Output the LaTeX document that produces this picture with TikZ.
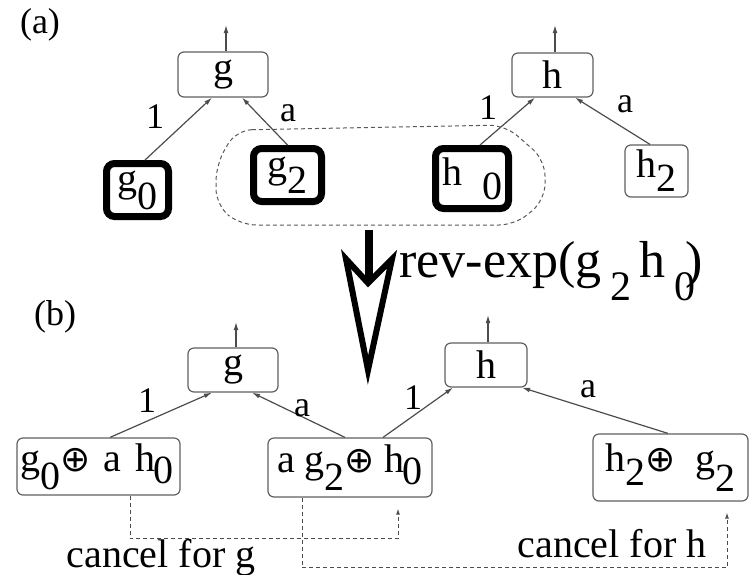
\documentclass[tikz,border=0pt]{standalone}
\usepackage{fontspec}
\setmainfont{Liberation Serif}
\newfontfamily\symfont{DejaVu Sans}
\usetikzlibrary{arrows.meta}
\newcommand\lowr[2][0.4em]{\raisebox{-#1}{#2}}
\newcommand\opl{{\symfont\fontsize{18}{18}\selectfont ⊕}}
\begin{document}
\begin{tikzpicture}[x=0.5pt,y=-0.5pt,
  nodebox/.style={draw=gray!75!black, line width=0.6pt, rounded corners=3pt, inner sep=0pt, font=\fontsize{20}{24}\selectfont},
  heavybox/.style={nodebox, draw=black, line width=3.5pt, rounded corners=4pt},
  link/.style={gray!60!black, line width=0.6pt, -{Latex[length=4pt,width=2.4pt]}},
  lbl/.style={inner sep=0pt, font=\fontsize{18}{20}\selectfont},
  cancelline/.style={gray!60!black, line width=0.5pt, dash pattern=on 2pt off 1.5pt, -{Latex[length=3pt,width=2pt]}}]
\useasboundingbox (0,0) rectangle (749,574);
% (a) before
\node[lbl] (parta) at (40,25) {(a)};
\node[nodebox, minimum width=45pt, minimum height=22.5pt] (ag) at (223,74.5) {g};
\coordinate (agout) at (226,25);
\draw[link] (agout |- ag.north) -- (agout);
\node[heavybox, minimum width=31pt, minimum height=26.5pt] (ag0) at (137.5,190) {g\lowr[0.45em]{0}};
\node[heavybox, minimum width=34pt, minimum height=26.5pt] (ag2) at (287.5,175) {g\lowr{2}};
\draw[link] ([xshift=3.75pt]ag0.north) -- ([xshift=-5.5pt]ag.south);
\draw[link] (ag2.north) -- ([xshift=9.5pt]ag.south);
\node[lbl] (ag0lbl) at (155,117) {1};
\node[lbl] (ag2lbl) at (288,113) {a};
\node[nodebox, minimum width=40.5pt, minimum height=22pt] (ah) at (552.5,75) {h};
\coordinate (ahout) at (555,25);
\draw[link] (ahout |- ah.north) -- (ahout);
\node[heavybox, minimum width=36.5pt, minimum height=30pt] (ah0) at (472,178.5) {h\ \ \lowr[0.35em]{0}};
\node[nodebox, minimum width=31.5pt, minimum height=26pt] (ah2) at (656.5,171) {h\lowr[0.35em]{2}};
\draw[link] ([xshift=4pt]ah0.north) -- ([xshift=-8.75pt]ah.south);
\draw[link] ([xshift=-3.25pt]ah2.north) -- ([xshift=11.25pt]ah.south);
\node[lbl] (ah0lbl) at (488,108) {1};
\node[lbl] (ah2lbl) at (625,104) {a};
\draw[gray!70!black, line width=0.5pt, dash pattern=on 2pt off 1.5pt, rounded corners=8pt]
  (236,130) -- (505,125) -- (545,160) -- (545,200) -- (515,225) -- (240,225) -- (216,205) -- (216,165) -- cycle;
% rev-exp step
\draw[line width=4pt] (369,230) -- (369,284);
\draw[line width=3pt, fill=white, line join=miter] (346,259) -- (368,283) -- (392,259) -- (368,370) -- cycle;
\node[anchor=base west, inner sep=0pt, font=\fontsize{26}{30}\selectfont] (revexp) at (399,277)
  {rev-exp(g\,\lowr[0.45em]{\fontsize{21}{21}\selectfont 2}\,h\,\lowr[0.45em]{\fontsize{21}{21}\selectfont 0}\kern-0.2em)};
% (b) after
\node[lbl] (partb) at (55,317) {(b)};
\node[nodebox, minimum width=45pt, minimum height=22pt] (bg) at (233,370) {g};
\coordinate (bgout) at (236,322);
\draw[link] (bgout |- bg.north) -- (bgout);
\node[nodebox, minimum width=81.5pt, minimum height=28.5pt, text width=78pt, align=left] (bg0) at (98.5,466.5)
  {g\lowr[0.45em]{0}\opl\ a h\kern-0.05em\lowr[0.3em]{0}};
\node[nodebox, minimum width=82pt, minimum height=29.5pt] (bg2) at (350,467.5)
  {a g\lowr[0.45em]{2}\opl\ h\kern-0.05em\lowr[0.3em]{0}};
\draw[link] ([xshift=5.75pt]bg0.north) -- ([xshift=-10.5pt]bg.south);
\draw[link] ([xshift=-2.5pt]bg2.north) -- ([xshift=9.5pt]bg.south);
\node[lbl] (bg0lbl) at (147,401) {1};
\node[lbl] (bg2lbl) at (302,408) {a};
\node[nodebox, minimum width=41pt, minimum height=22pt] (bh) at (486,365) {h};
\coordinate (bhout) at (488,315);
\draw[link] (bhout |- bh.north) -- (bhout);
\node[nodebox, minimum width=77.5pt, minimum height=33.5pt] (bh2) at (670.5,467.5)
  {h\lowr[0.35em]{2}\opl\ \ g\lowr[0.5em]{2}};
\draw[link] ([xshift=16.5pt]bg2.north) -- ([xshift=-16.5pt]bh.south);
\draw[link] ([xshift=-1.25pt]bh2.north) -- ([xshift=18pt]bh.south);
\node[lbl] (bg2hlbl) at (413,398) {1};
\node[lbl] (bh2lbl) at (588,389) {a};
% cancellations
\draw[cancelline] ([xshift=15.75pt]bg0.south) -- ++(0,43) -| ([xshift=24pt,yshift=-5.5pt]bg2.south);
\draw[cancelline] ([xshift=-24pt]bg2.south) -- ++(0,70) -| ([xshift=28.25pt,yshift=-5.5pt]bh2.south);
\node[anchor=base, inner sep=0pt, font=\fontsize{20}{24}\selectfont] (cang) at (161,567) {cancel for g};
\node[anchor=base, inner sep=0pt, font=\fontsize{20}{24}\selectfont] (canh) at (612,557) {cancel for h};
\end{tikzpicture}
\end{document}
